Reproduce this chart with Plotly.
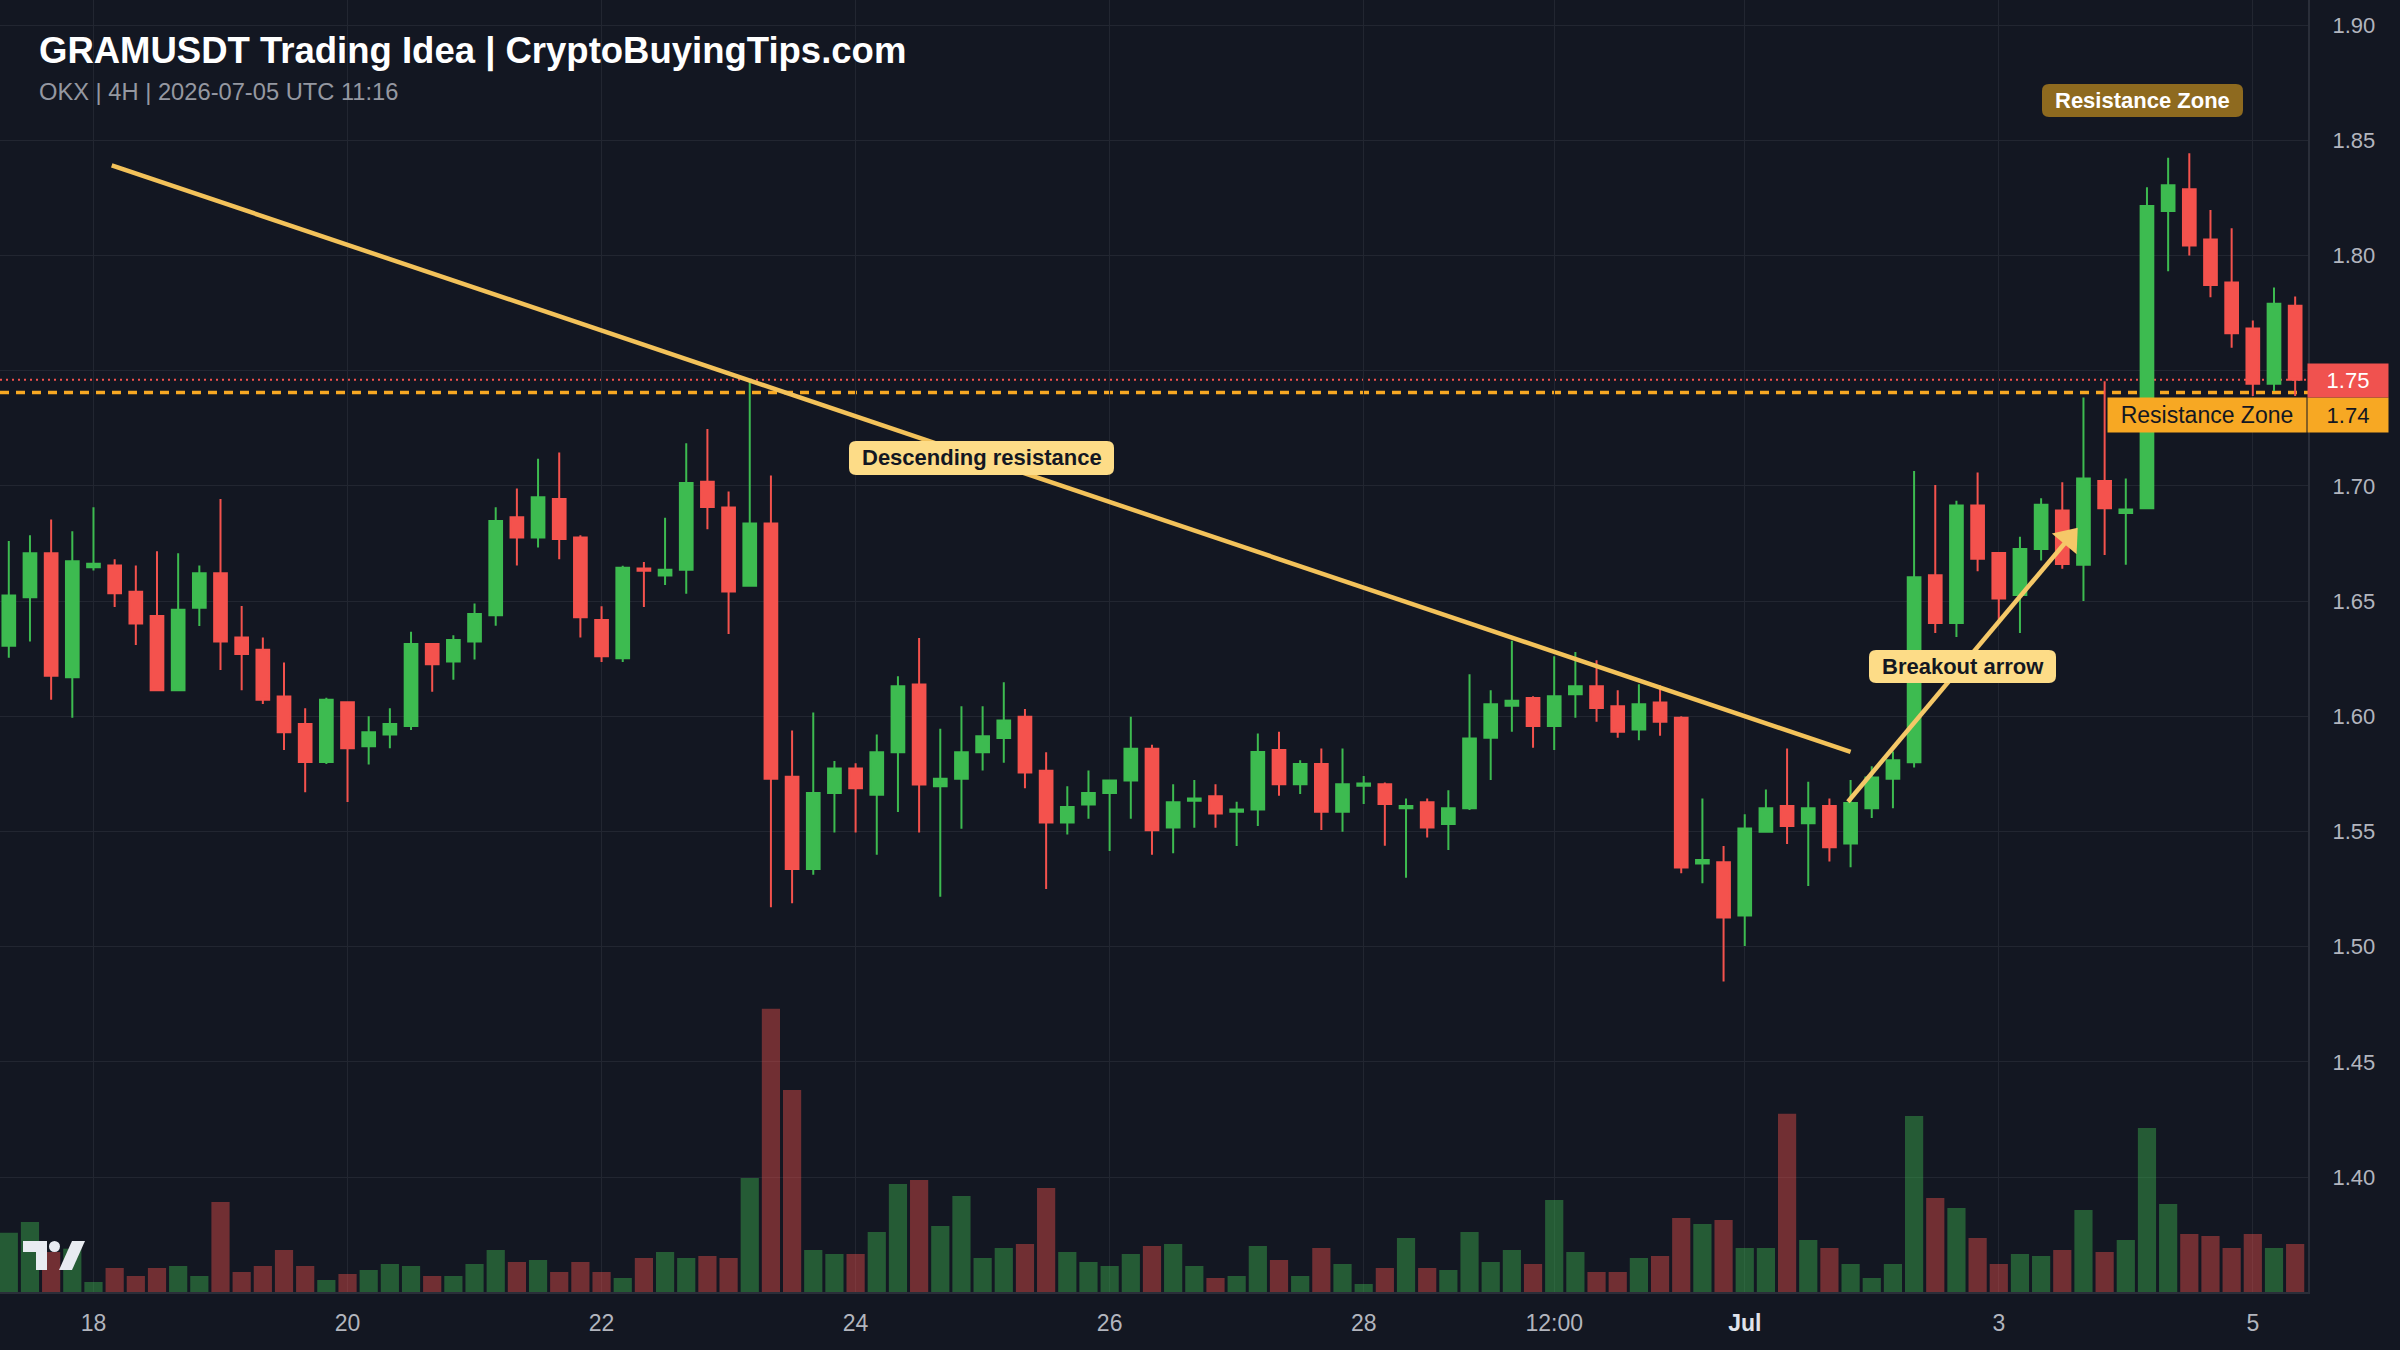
import math
import pandas as pd
import plotly.graph_objects as go

# ------------------------------------------------------------------ data
start_time = "2026-06-17 08:00"   # first 4H candle

opens = [1.6306, 1.6516, 1.6707, 1.6169, 1.6647, 1.6654, 1.6540, 1.6435, 1.6113, 1.6471,
         1.6620, 1.6342, 1.6288, 1.6086, 1.5966, 1.5801, 1.6061, 1.5870, 1.5921, 1.5958,
         1.6313, 1.6237, 1.6324, 1.6438, 1.6863, 1.6776, 1.6943, 1.6776, 1.6417, 1.6252,
         1.6641, 1.6611, 1.6636, 1.7018, 1.6906, 1.6566, 1.6836, 1.5737, 1.5337, 1.5667,
         1.5773, 1.5659, 1.5843, 1.6138, 1.5696, 1.5729, 1.5843, 1.5905, 1.5998, 1.5763,
         1.5539, 1.5617, 1.5667, 1.5721, 1.5859, 1.5517, 1.5633, 1.5653, 1.5585, 1.5595,
         1.5853, 1.5705, 1.5792, 1.5585, 1.5698, 1.5705, 1.5600, 1.5626, 1.5532, 1.5600,
         1.5906, 1.6045, 1.6079, 1.5958, 1.6095, 1.6130, 1.6043, 1.5942, 1.6059, 1.5993,
         1.5361, 1.5366, 1.5135, 1.5499, 1.5610, 1.5535, 1.5610, 1.5448, 1.5601, 1.5729,
         1.5800, 1.6612, 1.6404, 1.6914, 1.6708, 1.6526, 1.6726, 1.6893, 1.6657, 1.7021,
         1.6882, 1.6903, 1.8193, 1.8287, 1.8069, 1.7882, 1.7683, 1.7443, 1.7782]
highs = [1.6760, 1.6785, 1.6854, 1.6803, 1.6907, 1.6681, 1.6654, 1.6716, 1.6707, 1.6654,
         1.6943, 1.6478, 1.6342, 1.6233, 1.6035, 1.6080, 1.6061, 1.6000, 1.6035, 1.6366,
         1.6313, 1.6351, 1.6489, 1.6907, 1.6988, 1.7117, 1.7144, 1.6785, 1.6477, 1.6653,
         1.6669, 1.6861, 1.7185, 1.7246, 1.6975, 1.7454, 1.7045, 1.5938, 1.6016, 1.5806,
         1.5796, 1.5921, 1.6173, 1.6339, 1.5946, 1.6043, 1.6043, 1.6147, 1.6031, 1.5843,
         1.5696, 1.5764, 1.5721, 1.5998, 1.5876, 1.5705, 1.5723, 1.5705, 1.5629, 1.5925,
         1.5932, 1.5809, 1.5860, 1.5860, 1.5740, 1.5712, 1.5643, 1.5643, 1.5679, 1.6182,
         1.6113, 1.6327, 1.6087, 1.6260, 1.6279, 1.6243, 1.6113, 1.6139, 1.6134, 1.6000,
         1.5643, 1.5437, 1.5574, 1.5682, 1.5860, 1.5715, 1.5643, 1.5723, 1.5783, 1.5847,
         1.7064, 1.7004, 1.6935, 1.7058, 1.6708, 1.6779, 1.6946, 1.7015, 1.7383, 1.7454,
         1.7032, 1.8296, 1.8424, 1.8443, 1.8197, 1.8118, 1.7717, 1.7861, 1.7822]
lows = [1.6254, 1.6324, 1.6071, 1.5993, 1.6632, 1.6474, 1.6309, 1.6110, 1.6110, 1.6391,
        1.6200, 1.6113, 1.6053, 1.5853, 1.5670, 1.5793, 1.5628, 1.5790, 1.5861, 1.5940,
        1.6106, 1.6158, 1.6246, 1.6393, 1.6654, 1.6732, 1.6681, 1.6342, 1.6235, 1.6235,
        1.6474, 1.6569, 1.6532, 1.6811, 1.6357, 1.6566, 1.5171, 1.5188, 1.5312, 1.5495,
        1.5495, 1.5399, 1.5584, 1.5495, 1.5216, 1.5512, 1.5764, 1.5798, 1.5687, 1.5250,
        1.5487, 1.5555, 1.5415, 1.5555, 1.5399, 1.5405, 1.5516, 1.5516, 1.5437, 1.5523,
        1.5655, 1.5662, 1.5506, 1.5499, 1.5619, 1.5438, 1.5299, 1.5474, 1.5419, 1.5593,
        1.5723, 1.5932, 1.5863, 1.5853, 1.5993, 1.5976, 1.5906, 1.5896, 1.5915, 1.5318,
        1.5275, 1.4848, 1.5003, 1.5499, 1.5445, 1.5263, 1.5369, 1.5344, 1.5558, 1.5601,
        1.5777, 1.6361, 1.6344, 1.6629, 1.6415, 1.6361, 1.6676, 1.6640, 1.6500, 1.6700,
        1.6657, 1.6900, 1.7931, 1.8000, 1.7818, 1.7599, 1.7390, 1.7411, 1.7390]
closes = [1.6524, 1.6707, 1.6176, 1.6672, 1.6662, 1.6534, 1.6402, 1.6113, 1.6462, 1.6620,
          1.6324, 1.6270, 1.6071, 1.5930, 1.5801, 1.6071, 1.5861, 1.5930, 1.5966, 1.6313,
          1.6226, 1.6331, 1.6444, 1.6847, 1.6776, 1.6950, 1.6769, 1.6429, 1.6260, 1.6644,
          1.6631, 1.6636, 1.7012, 1.6908, 1.6541, 1.6836, 1.5729, 1.5337, 1.5667, 1.5773,
          1.5687, 1.5843, 1.6130, 1.5704, 1.5729, 1.5843, 1.5913, 1.5981, 1.5756, 1.5539,
          1.5606, 1.5667, 1.5721, 1.5859, 1.5505, 1.5626, 1.5643, 1.5578, 1.5595, 1.5845,
          1.5705, 1.5792, 1.5585, 1.5705, 1.5708, 1.5619, 1.5610, 1.5517, 1.5600, 1.5903,
          1.6052, 1.6067, 1.5958, 1.6087, 1.6130, 1.6036, 1.5932, 1.6052, 1.5976, 1.5343,
          1.5376, 1.5126, 1.5513, 1.5600, 1.5523, 1.5600, 1.5431, 1.5623, 1.5734, 1.5809,
          1.6603, 1.6404, 1.6914, 1.6683, 1.6511, 1.6726, 1.6918, 1.6661, 1.7032, 1.6903,
          1.6897, 1.8214, 1.8304, 1.8043, 1.7871, 1.7662, 1.7443, 1.7790, 1.7460]
volumes_k = [178, 210, 120, 130, 30, 72, 48, 72, 78, 48,
             270, 60, 78, 126, 78, 36, 54, 66, 84, 78,
             48, 48, 84, 126, 90, 96, 60, 90, 60, 42,
             102, 120, 102, 108, 102, 342, 850, 606, 126, 114,
             114, 180, 324, 336, 198, 288, 102, 132, 144, 312,
             120, 90, 78, 114, 138, 144, 78, 42, 48, 138,
             96, 48, 132, 84, 24, 72, 162, 72, 66, 180,
             90, 126, 84, 276, 120, 60, 60, 102, 108, 222,
             204, 216, 132, 132, 535, 156, 132, 84, 42, 84,
             528, 282, 252, 162, 84, 114, 108, 126, 246, 120,
             156, 492, 264, 174, 168, 132, 174, 132, 144]

x_tick_dates = ["2026-06-18 00:00", "2026-06-20 00:00", "2026-06-22 00:00", "2026-06-24 00:00",
                "2026-06-26 00:00", "2026-06-28 00:00", "2026-06-29 12:00", "2026-07-01 00:00",
                "2026-07-03 00:00", "2026-07-05 00:00"]
x_tick_labels = ["18", "20", "22", "24", "26", "28", "12:00", "Jul", "3", "5"]
price_ticks = [1.40, 1.45, 1.50, 1.55, 1.60, 1.65, 1.70, 1.75, 1.80, 1.85, 1.90]

resistance_level = 1.7405
trend_times = ["2026-06-18 03:27", "2026-07-01 20:00"]
trend_prices = [1.8391, 1.5845]
arrow_times = ["2026-07-01 19:30", "2026-07-03 14:55"]
arrow_prices = [1.5629, 1.6818]

title_text = "GRAMUSDT Trading Idea | CryptoBuyingTips.com"
subtitle_text = "OKX | 4H | 2026-07-05 UTC 11:16"

# ------------------------------------------------------------------ layout geometry / styles
FIG_W, FIG_H = 2400, 1350
PW, PH = 2308, 1292                 # plot area in px
MR, MB = FIG_W - PW, FIG_H - PH
SLOT_PX = 21.17                     # px per 4H candle
FIRST_PX = 8.8                      # centre of first candle
PX_PER_005 = 115.2                  # px per 0.05 price
Y_AT_190 = 25.0                     # px of 1.90 gridline

BG = "#131722"
GRID = "#222631"
AXLINE = "#2a2e39"
TXT = "#b2b5be"
GREEN = "#3dbb50"
RED = "#f4524d"
GOLD = "#f3c25a"
ARROW = "#f5c868"
FONT = "Liberation Sans, Arial, sans-serif"

bar = pd.Timedelta(hours=4)
times = pd.date_range(start_time, periods=len(opens), freq="4h")
x_left = times[0] - bar * (FIRST_PX / SLOT_PX)
x_right = x_left + bar * (PW / SLOT_PX)
ppp = 0.05 / PX_PER_005
y_top = 1.90 + Y_AT_190 * ppp
y_bot = y_top - PH * ppp
vol_top = PH * 3.0                  # volumes: 3 units per px


def to_px(t, p):
    t = pd.Timestamp(t)
    return ((t - x_left) / (x_right - x_left) * PW, (y_top - p) / (y_top - y_bot) * PH)


def from_px(x, y):
    return (x_left + (x_right - x_left) * (x / PW), y_top - y / PH * (y_top - y_bot))


def X(px):
    return px / PW


def Y(py):
    return 1 - py / PH


def rrect(x0, y0, x1, y1, r):
    return (f"M {X(x0 + r)},{Y(y0)} L {X(x1 - r)},{Y(y0)} Q {X(x1)},{Y(y0)} {X(x1)},{Y(y0 + r)} "
            f"L {X(x1)},{Y(y1 - r)} Q {X(x1)},{Y(y1)} {X(x1 - r)},{Y(y1)} "
            f"L {X(x0 + r)},{Y(y1)} Q {X(x0)},{Y(y1)} {X(x0)},{Y(y1 - r)} "
            f"L {X(x0)},{Y(y0 + r)} Q {X(x0)},{Y(y0)} {X(x0 + r)},{Y(y0)} Z")


def rgba(hexc, a):
    h = hexc.lstrip("#")
    return f"rgba({int(h[0:2], 16)},{int(h[2:4], 16)},{int(h[4:6], 16)},{a})"


fig = go.Figure()

# volume
vol_colors = [rgba(GREEN, 0.42) if c >= o else rgba(RED, 0.42) for o, c in zip(opens, closes)]
fig.add_trace(go.Bar(x=times, y=volumes_k, yaxis="y2", width=bar.total_seconds() * 1000 * 0.86,
                     marker=dict(color=vol_colors, line=dict(width=0)), hoverinfo="skip",
                     showlegend=False))

# candles
fig.add_trace(go.Candlestick(
    x=times, open=opens, high=highs, low=lows, close=closes,
    increasing=dict(line=dict(color=GREEN, width=2), fillcolor=GREEN),
    decreasing=dict(line=dict(color=RED, width=2), fillcolor=RED),
    whiskerwidth=0, showlegend=False, hoverinfo="skip"))

# descending trendline
fig.add_trace(go.Scatter(x=pd.to_datetime(trend_times), y=trend_prices, mode="lines",
                         line=dict(color=GOLD, width=4.5), hoverinfo="skip", showlegend=False))

# breakout arrow
HEAD = 28
ax0, ay0 = to_px(arrow_times[0], arrow_prices[0])
ax1, ay1 = to_px(arrow_times[1], arrow_prices[1])
L = math.hypot(ax1 - ax0, ay1 - ay0)
ux, uy = (ax1 - ax0) / L, (ay1 - ay0) / L
bx, by = ax1 - ux * HEAD / 2, ay1 - uy * HEAD / 2
bt, bp = from_px(bx, by)
angle = math.degrees(math.atan2(ux, -uy))
fig.add_trace(go.Scatter(x=[pd.Timestamp(arrow_times[0]), bt], y=[arrow_prices[0], bp], mode="lines",
                         line=dict(color=ARROW, width=4.5), hoverinfo="skip", showlegend=False))
fig.add_trace(go.Scatter(x=[bt], y=[bp], mode="markers",
                         marker=dict(symbol="triangle-up", size=HEAD, angle=angle, color=ARROW,
                                     line=dict(width=0)),
                         hoverinfo="skip", showlegend=False))

shapes = [
    dict(type="line", xref="paper", x0=0, x1=1, yref="y", y0=closes[-1], y1=closes[-1],
         line=dict(color=RED, width=2, dash="2px,4px"), layer="below"),
    dict(type="line", xref="paper", x0=0, x1=1, yref="y", y0=resistance_level, y1=resistance_level,
         line=dict(color="#f7a823", width=3.5, dash="9px,7px"), layer="below"),
]

annotations = []
boxes = [
    ("Descending resistance", (849, 441, 1114, 475), "#fddc87", "#131722"),
    ("Breakout arrow", (1869, 650, 2056, 683), "#fddc87", "#131722"),
    ("Resistance Zone", (2042, 84, 2243, 117), "#8e6a1f", "#ffffff"),
]
for text, (x0, y0, x1, y1), fill, tc in boxes:
    shapes.append(dict(type="path", xref="paper", yref="paper", path=rrect(x0, y0, x1, y1, 7),
                       fillcolor=fill, line=dict(width=0), layer="above"))
    annotations.append(dict(xref="paper", yref="paper", x=X((x0 + x1) / 2), y=Y((y0 + y1) / 2 - 0.5),
                            text=f"<b>{text}</b>", showarrow=False, xanchor="center",
                            yanchor="middle", font=dict(family=FONT, size=22, color=tc)))

# TradingView style logo (bottom-left)
LOGO = "#e8ebf1"
shapes.append(dict(type="path", xref="paper", yref="paper", fillcolor=LOGO, line=dict(width=0),
                   layer="above",
                   path=f"M {X(23)},{Y(1241)} L {X(47)},{Y(1241)} L {X(47)},{Y(1270)} L {X(36)},{Y(1270)} "
                        f"L {X(36)},{Y(1252)} L {X(23)},{Y(1252)} Z"))
shapes.append(dict(type="circle", xref="paper", yref="paper", x0=X(49), x1=X(60), y0=Y(1252), y1=Y(1241),
                   fillcolor=LOGO, line=dict(width=0), layer="above"))
shapes.append(dict(type="path", xref="paper", yref="paper", fillcolor=LOGO, line=dict(width=0),
                   layer="above",
                   path=f"M {X(72)},{Y(1241)} L {X(85)},{Y(1241)} L {X(72)},{Y(1270)} L {X(59)},{Y(1270)} Z"))

# right side labels
annotations += [
    dict(xref="paper", yref="paper", x=X(2207), y=Y(415), text="Resistance Zone", showarrow=False,
         xanchor="center", yanchor="middle", width=198, height=34, bgcolor="#f7a823", borderpad=0,
         font=dict(family=FONT, size=23, color="#131722")),
    dict(xref="paper", yref="paper", x=X(2348), y=Y(415), text=f"{resistance_level:.2f}", showarrow=False,
         xanchor="center", yanchor="middle", width=80, height=34, bgcolor="#f7a823", borderpad=0,
         font=dict(family=FONT, size=22, color="#131722")),
    dict(xref="paper", yref="paper", x=X(2348), y=Y(380.5), text=f"{closes[-1]:.2f}", showarrow=False,
         xanchor="center", yanchor="middle", width=80, height=33, bgcolor="#f0524f", borderpad=0,
         font=dict(family=FONT, size=22, color="#ffffff")),
    dict(xref="paper", yref="paper", x=X(37), y=Y(51), text=f"<b>{title_text}</b>", showarrow=False,
         xanchor="left", yanchor="middle", font=dict(family=FONT, size=36.5, color="#ffffff")),
    dict(xref="paper", yref="paper", x=X(37), y=Y(92), text=subtitle_text, showarrow=False,
         xanchor="left", yanchor="middle", font=dict(family=FONT, size=23.7, color="#9598a1")),
]

# x tick text: month label emphasised; y tick at last-price label hidden (covered by the price tag)
x_tick_text = [f"<b><span style='color:#e0e3eb'>{t}</span></b>" if t.isalpha() else t
               for t in x_tick_labels]
y_tick_text = ["" if abs(v - round(closes[-1], 2)) < 1e-9 else f"{v:.2f}" for v in price_ticks]

fig.update_layout(
    width=FIG_W, height=FIG_H,
    margin=dict(l=0, r=MR, t=0, b=MB, pad=0),
    paper_bgcolor=BG, plot_bgcolor=BG,
    boxgap=0.4, boxgroupgap=0,
    showlegend=False,
    shapes=shapes, annotations=annotations,
    xaxis=dict(type="date", range=[x_left, x_right], rangeslider=dict(visible=False),
               tickvals=pd.to_datetime(x_tick_dates, format="%Y-%m-%d %H:%M"), ticktext=x_tick_text,
               showgrid=True, gridcolor=GRID, gridwidth=1, zeroline=False,
               showline=True, linecolor=AXLINE, linewidth=2, ticks="",
               ticklabelstandoff=9,
               tickfont=dict(family=FONT, size=23, color=TXT), fixedrange=True),
    yaxis=dict(side="right", range=[y_bot, y_top], tickvals=price_ticks,
               ticktext=y_tick_text,
               showgrid=True, gridcolor=GRID, gridwidth=1, zeroline=False,
               showline=True, linecolor=AXLINE, linewidth=2, ticks="",
               ticklabelstandoff=18,
               tickfont=dict(family=FONT, size=22, color=TXT), fixedrange=True),
    yaxis2=dict(overlaying="y", range=[0, vol_top], visible=False, showgrid=False, fixedrange=True),
)

fig.write_html("out.html", config={"displayModeBar": False})
